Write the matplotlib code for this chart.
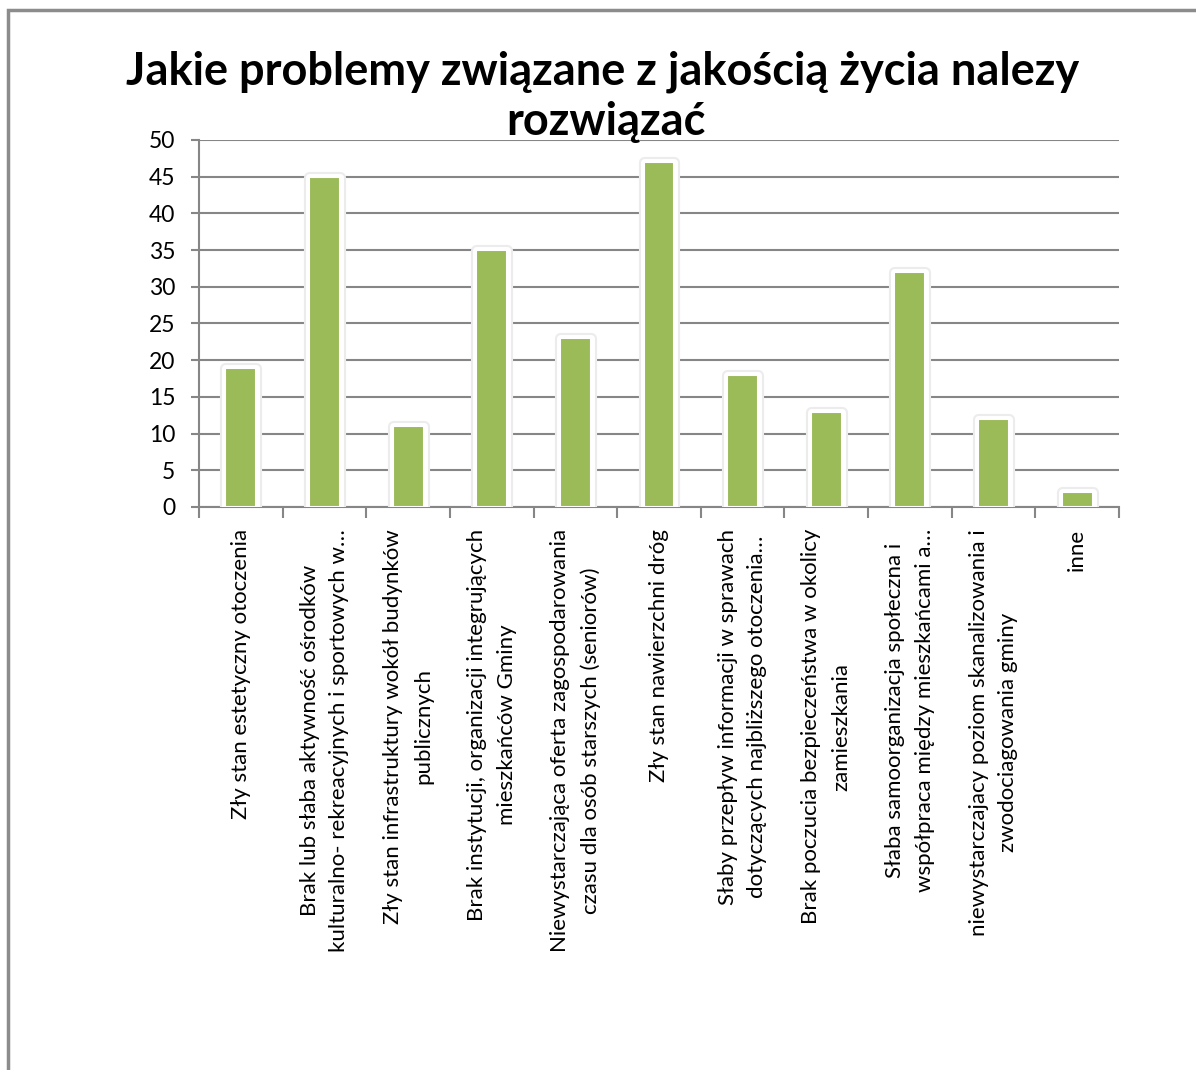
import matplotlib
matplotlib.use("Agg")
import matplotlib.pyplot as plt
import matplotlib.patheffects as pe
from matplotlib.patches import Rectangle

plt.rcParams["font.family"] = ["Lato", "DejaVu Sans"]

labels = [
    "Zły stan estetyczny otoczenia",
    "Brak lub słaba aktywność ośrodków\nkulturalno- rekreacyjnych i sportowych w…",
    "Zły stan infrastruktury wokół budynków\npublicznych",
    "Brak instytucji, organizacji integrujących\nmieszkańców Gminy",
    "Niewystarczająca oferta zagospodarowania\nczasu dla osób starszych (seniorów)",
    "Zły stan nawierzchni dróg",
    "Słaby przepływ informacji w sprawach\ndotyczących najbliższego otoczenia…",
    "Brak poczucia bezpieczeństwa w okolicy\nzamieszkania",
    "Słaba samoorganizacja społeczna i\nwspółpraca między mieszkańcami a…",
    "niewystarczajacy poziom skanalizowania i\nzwodociagowania gminy",
    "inne",
]
values = [19, 45, 11, 35, 23, 47, 18, 13, 32, 12, 2]
yticks = list(range(0, 51, 5))
title_lines = ["Jakie problemy związane z jakością życia nalezy", "rozwiązać"]

fig = plt.figure(figsize=(11.96, 10.70), dpi=100)
fig.patches.append(Rectangle((8 / 1196, -0.01), 1.2, (1060 / 1070) + 0.01,
                             transform=fig.transFigure, fill=False,
                             edgecolor="#8c8c8c", linewidth=2.5))

ax = fig.add_axes([0.1664, 0.5262, 0.7692, 0.343])
x = list(range(len(values)))
bars = ax.bar(x, values, width=0.37, color="#9BBB59", edgecolor="white",
              linewidth=1.5, zorder=3)
for b in bars:
    b.set_path_effects([pe.Stroke(linewidth=8, foreground="#ececec", joinstyle="round"),
                        pe.Stroke(linewidth=5, foreground="white", joinstyle="round"),
                        pe.Normal()])

ax.set_xlim(-0.5, len(values) - 0.5)
ax.set_ylim(0, 50)
ax.set_yticks(yticks)
ax.yaxis.grid(True, color="#868686", linewidth=1.5, zorder=0)
ax.set_axisbelow(True)
for s in ["top", "right"]:
    ax.spines[s].set_visible(False)
for s in ["left", "bottom"]:
    ax.spines[s].set_color("#868686")
    ax.spines[s].set_linewidth(1.5)

ax.set_xticks([i - 0.5 for i in range(len(values) + 1)])
ax.set_xticklabels([])
ax.tick_params(axis="x", length=8, color="#868686", width=1.5)
ax.tick_params(axis="y", length=6, color="#868686", width=1.5, labelsize=16.5, pad=11)

for i, lab in enumerate(labels):
    ax.text(i, -3.0, lab, rotation=90, ha="center", va="top",
            multialignment="center", fontsize=16, linespacing=1.6)

fig.text(0.504, 0.9206, title_lines[0], ha="center", va="baseline",
         fontsize=32.5, fontweight="bold")
fig.text(0.507, 0.8738, title_lines[1], ha="center", va="baseline",
         fontsize=32.5, fontweight="bold")

fig.savefig("out.png", dpi=100)
